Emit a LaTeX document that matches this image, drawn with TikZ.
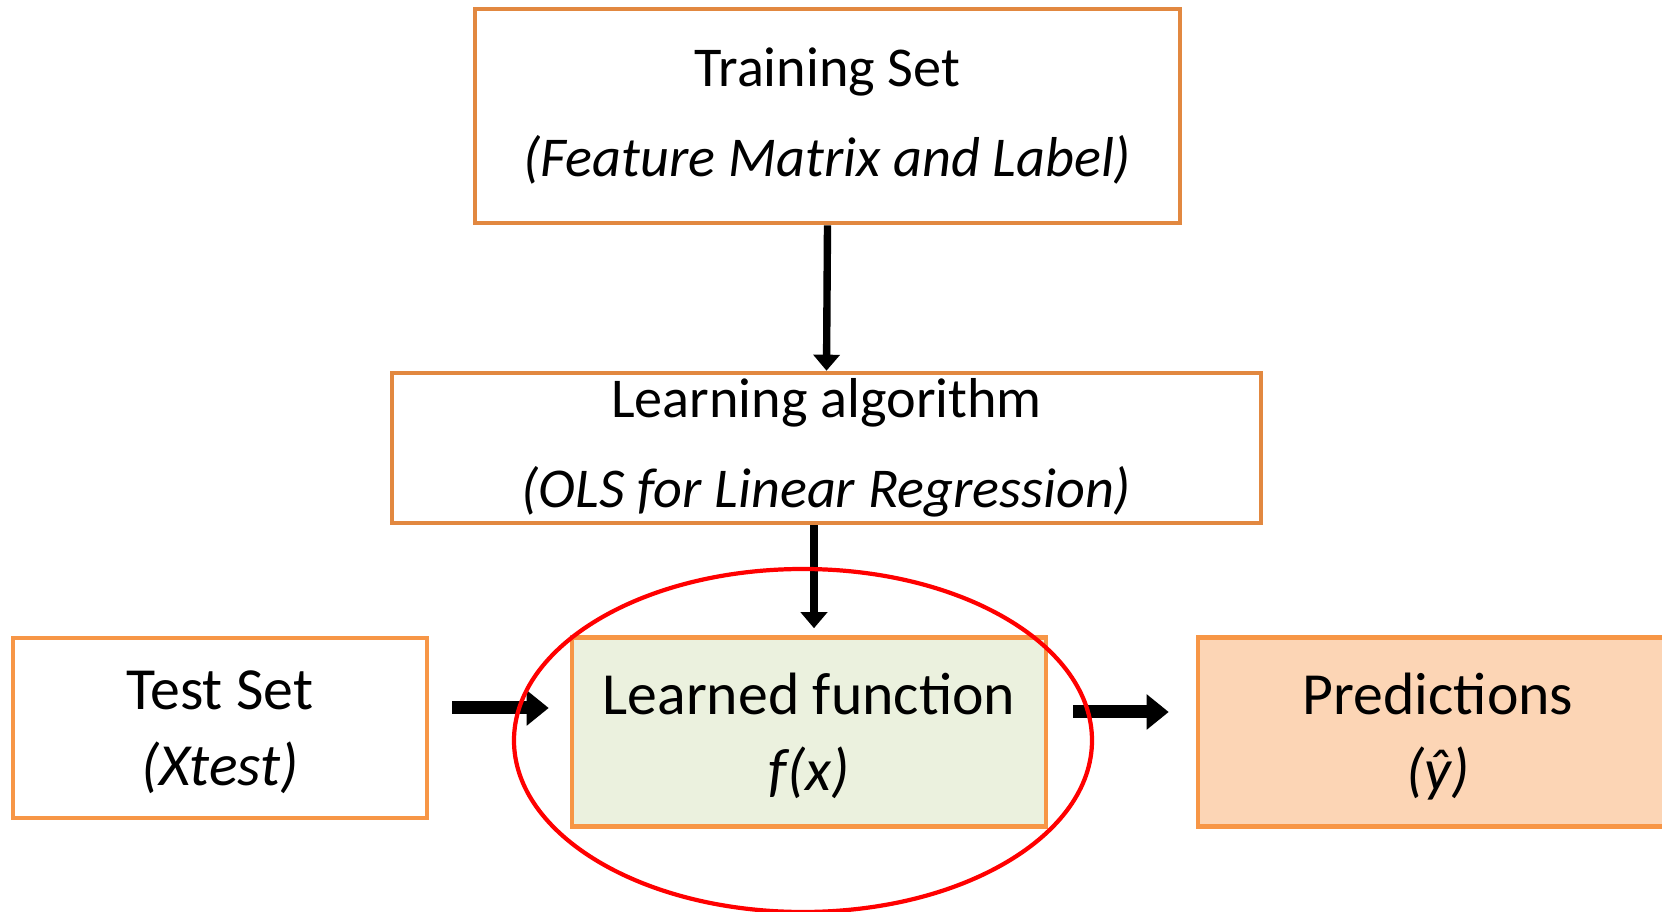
\documentclass[tikz,border=0pt]{standalone}
\usepackage{fontspec}
\setmainfont{Carlito}
\usetikzlibrary{arrows.meta,shapes.geometric}
\definecolor{topedge}{RGB}{226,136,64}
\definecolor{lowedge}{RGB}{247,150,70}
\definecolor{greenfill}{RGB}{235,241,222}
\definecolor{peachfill}{RGB}{252,213,181}

\begin{document}
\begin{tikzpicture}[
    box/.style={draw=topedge, line width=1.3pt, align=center, font=\fontsize{16}{25.5}\selectfont},
    lowbox/.style={draw=lowedge, line width=1.3pt, align=center, minimum height=1.89cm, text depth=0pt, font=\fontsize{17}{21.5}\selectfont},
    thinarrow/.style={line width=2.1pt, -{Triangle[length=0.16cm, width=0.26cm]}},
    fatarrow/.style={line width=3.7pt, -{Triangle[length=0.22cm, width=0.34cm]}}
  ]
    \useasboundingbox (0,0) rectangle (16.62,9.12);

    % --- upper boxes ---
    \node[box, minimum width=7.05cm, minimum height=2.14cm] (train) at (8.275, 7.96) {Training Set\\\textit{(Feature Matrix and Label)}};
    \node[box, inner ysep=0pt, minimum width=8.69cm, minimum height=1.50cm] (learn) at (8.265, 4.64) {Learning algorithm\\\textit{(OLS for Linear Regression)}};

    % --- lower row ---
    \node[lowbox, minimum width=4.14cm, minimum height=1.80cm] (test) at (2.20, 1.84) {Test Set\\\textit{(Xtest)}};
    \node[lowbox, fill=greenfill, minimum width=4.74cm] (fx) at (8.09, 1.80) {Learned function\\\textit{f(x)}};
    \node[lowbox, fill=peachfill, minimum width=4.80cm] (pred) at (14.38, 1.80) {Predictions\\\textit{(ŷ)}};

    % connectors
    \draw[thinarrow] (train.south) -- (learn.north);
    \draw[thinarrow, shorten >=0.07cm] ([xshift=0.5mm]learn.south -| fx.north) -- ([xshift=0.5mm]fx.north);
    \draw[fatarrow, shorten <=0.23cm, shorten >=0.21cm] ([yshift=2mm]test.east) -- ([yshift=2mm]test.east -| fx.west);
    \draw[fatarrow, shorten <=0.25cm, shorten >=0.27cm] ([yshift=2mm]fx.east) -- ([yshift=2mm]fx.east -| pred.west);

    % red ring round the learned function
    \node[draw=red, line width=1.2pt, ellipse, inner sep=0pt, minimum width=5.78cm, minimum height=3.43cm] (ring) at (8.03, 1.715) {};
  \end{tikzpicture}
\end{document}
